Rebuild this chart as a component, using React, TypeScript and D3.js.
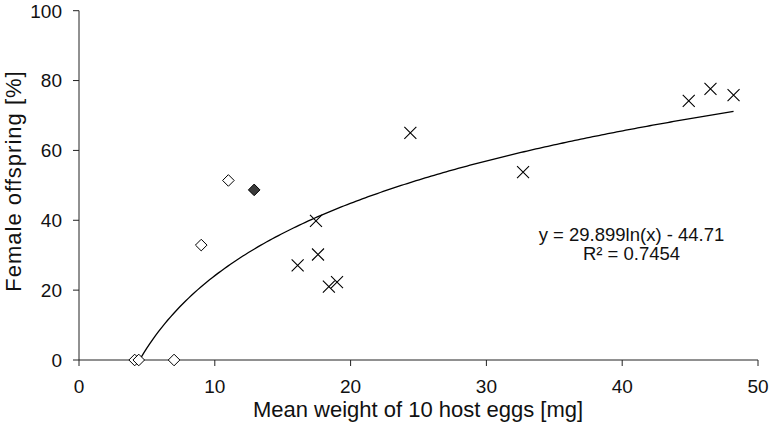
import React from "react";
import * as d3 from "d3";

const openDiamondX = [4.1, 4.4, 7.0, 9.0, 11.0];
const openDiamondY = [0, 0, 0, 32.9, 51.4];
const filledDiamondX = [12.9];
const filledDiamondY = [48.7];
const crossX = [16.1, 17.45, 17.6, 18.4, 19.0, 24.4, 32.7, 44.9, 46.5, 48.2];
const crossY = [27.1, 39.8, 30.2, 21.0, 22.3, 65.0, 53.8, 74.2, 77.6, 75.8];
const xTicks = [0, 10, 20, 30, 40, 50];
const yTicks = [0, 20, 40, 60, 80, 100];
const trendA = 29.899;
const trendB = -44.71;
const equationLines = ["y = 29.899ln(x) - 44.71", "R\u00b2 = 0.7454"];
const xTitle = "Mean weight of 10 host eggs [mg]";
const yTitle = "Female offspring [%]";

const W = 770;
const H = 428;
const FONT = "'Liberation Sans', Arial, Helvetica, sans-serif";

export default function App() {
  const x = d3.scaleLinear().domain([0, 50]).range([79, 758]);
  const y = d3.scaleLinear().domain([0, 100]).range([360, 10.7]);

  const allX = [...openDiamondX, ...filledDiamondX, ...crossX];
  const xMin = d3.min(allX) as number;
  const xMax = d3.max(allX) as number;
  const trendPts: [number, number][] = d3
    .range(0, 201)
    .map((i) => xMin + ((xMax - xMin) * i) / 200)
    .map((v) => [v, trendA * Math.log(v) + trendB] as [number, number])
    .filter((p) => p[1] >= 0);
  const x0 = Math.exp(-trendB / trendA);
  if (x0 > xMin) trendPts.unshift([x0, 0]);
  const line = d3
    .line<[number, number]>()
    .x((d) => x(d[0]))
    .y((d) => y(d[1]));

  const diamond = (cx: number, cy: number, r: number) =>
    `M${cx},${cy - r}L${cx + r},${cy}L${cx},${cy + r}L${cx - r},${cy}Z`;
  const cross = (cx: number, cy: number, r: number) =>
    `M${cx - r},${cy - r}L${cx + r},${cy + r}M${cx - r},${cy + r}L${cx + r},${cy - r}`;

  const axisColor = "#222";

  return (
    <svg
      width={W}
      height={H}
      viewBox={`0 0 ${W} ${H}`}
      style={{ position: "absolute", left: 0, top: 0, background: "#fff" }}
      fontFamily={FONT}
    >
      <rect x={0} y={0} width={W} height={H} fill="#fff" />
      <line x1={x(0)} x2={x(50)} y1={y(0)} y2={y(0)} stroke={axisColor} strokeWidth={1} />
      <line x1={x(0)} x2={x(0)} y1={y(0)} y2={y(100)} stroke={axisColor} strokeWidth={1} />
      {xTicks.map((t) => (
        <g key={`xt${t}`}>
          <line x1={x(t)} x2={x(t)} y1={y(0)} y2={y(0) + 6} stroke={axisColor} strokeWidth={1} />
          <text x={x(t)} y={392.5} fontSize={19} textAnchor="middle" fill="#111">
            {t}
          </text>
        </g>
      ))}
      {yTicks.map((t) => (
        <g key={`yt${t}`}>
          <line x1={x(0) - 6} x2={x(0)} y1={y(t)} y2={y(t)} stroke={axisColor} strokeWidth={1} />
          <text x={62} y={y(t) + 6.8} fontSize={19} textAnchor="end" fill="#111">
            {t}
          </text>
        </g>
      ))}
      <path d={line(trendPts) || ""} fill="none" stroke="#000" strokeWidth={1.3} />
      {openDiamondX.map((v, i) => (
        <path
          key={`od${i}`}
          d={diamond(x(v), y(openDiamondY[i]), 5.8)}
          fill="#fff"
          stroke="#000"
          strokeWidth={1}
        />
      ))}
      {filledDiamondX.map((v, i) => (
        <path
          key={`fd${i}`}
          d={diamond(x(v), y(filledDiamondY[i]), 5.8)}
          fill="#3a3a3a"
          stroke="#000"
          strokeWidth={1}
        />
      ))}
      {crossX.map((v, i) => (
        <path
          key={`cx${i}`}
          d={cross(x(v), y(crossY[i]), 6)}
          fill="none"
          stroke="#000"
          strokeWidth={1.1}
        />
      ))}
      <text x={631.5} y={240.5} fontSize={18.5} textAnchor="middle" fill="#111">
        {equationLines[0]}
      </text>
      <text x={631.5} y={259.5} fontSize={18.5} textAnchor="middle" fill="#111">
        {equationLines[1]}
      </text>
      <text x={418} y={416.5} fontSize={22} textAnchor="middle" fill="#111">
        {xTitle}
      </text>
      <text
        transform={`translate(20.5,181) rotate(-90)`}
        fontSize={22}
        letterSpacing={1}
        textAnchor="middle"
        fill="#111"
      >
        {yTitle}
      </text>
    </svg>
  );
}
